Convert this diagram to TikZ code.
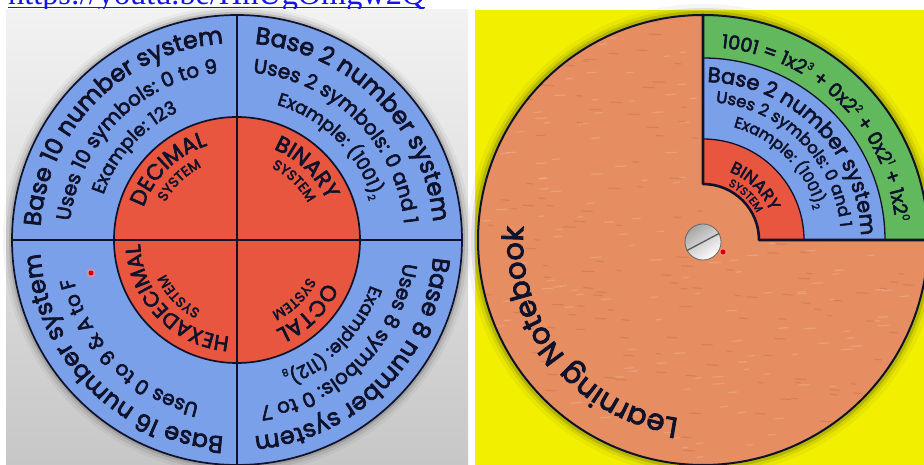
\documentclass[tikz,border=0pt]{standalone}
\usepackage{fontspec}
\setmainfont{Poppins}[FakeBold=3]
\newfontfamily\linkfont{Liberation Serif}
\usetikzlibrary{decorations.text,calc}
\definecolor{ink}{RGB}{15,18,42}
\definecolor{wblue}{RGB}{122,160,234}
\definecolor{wred}{RGB}{232,86,64}
\definecolor{worange}{RGB}{230,142,98}
\definecolor{wgreen}{RGB}{98,184,92}
\definecolor{wyellow}{RGB}{242,240,0}
\definecolor{linkblue}{RGB}{20,20,238}
\newcommand\arctxt[5]{%
  \path[decorate,decoration={text along path,text align=center,text color=ink,
     text={|\fontsize{#4}{#4}\selectfont|#5}}]
    ([shift={(#1)}]#2+80:#3) arc[start angle=#2+80,end angle=#2-80,radius=#3];}
\newcommand\subs[1]{{\raisebox{-0.35ex}{\fontsize{10}{10}\selectfont #1}}}
\newcommand\sups[1]{{\raisebox{0.75ex}{\fontsize{10}{10}\selectfont #1}}}
\tikzset{
  outline/.style={draw=ink,line width=1.7pt},
  divider/.style={draw=ink,line width=1.4pt},
  shadowring/.style={fill=black,opacity=#1},
  speck/.style={line width=1.2pt,line cap=round,opacity=0.22},
}
\begin{document}
\begin{tikzpicture}[x=1pt,y=1pt]
\useasboundingbox (0,0) rectangle (924,465);
\clip (0,0) rectangle (924,465);
\fill[white] (0,0) rectangle (924,465);
% link at the top
\node[anchor=base west,inner sep=0,text=linkblue,font=\linkfont] (link) at (8,460.5)
  {\resizebox{417pt}{!}{https://youtu.be/HhUgOmgw2Q}};
\draw[linkblue,line width=1.3pt] (link.base west) ++(0,-3) coordinate (u1) -- (u1 -| link.base east);
% ---------------- left panel
\shade[top color=white!95!black,bottom color=white!78!black] (6,0) rectangle (468,455);
\coordinate (L) at (237,225);
\foreach \r/\o in {234/0.04,231/0.07,228/0.12}{\fill[shadowring=\o] (L) circle (\r);}
\path[fill=wblue,outline] (L) circle (225);
\path[fill=wred,outline] (L) circle (123);
\draw[divider] ([xshift=-225pt]L) -- ([xshift=225pt]L);
\draw[divider] ([yshift=-225pt]L) -- ([yshift=225pt]L);
% top left
\arctxt{L}{135}{197}{24}{Base 10 number system}
\arctxt{L}{135}{168}{20}{Uses 10 symbols: 0 to 9}
\arctxt{L}{138}{141}{18.5}{Example: 123}
\arctxt{L}{134}{99}{22}{DECIMAL}
\arctxt{L}{134}{81}{14}{SYSTEM}
% top right
\arctxt{L}{45}{197}{24}{Base 2 number system}
\arctxt{L}{45}{168}{20}{Uses 2 symbols: 0 and 1}
\arctxt{L}{45}{141}{18}{Example: (1001)\subs{2}}
\arctxt{L}{46}{98}{22}{BINARY}
\arctxt{L}{46}{80}{14}{SYSTEM}
% bottom right
\arctxt{L}{-45}{197}{24}{Base 8 number system}
\arctxt{L}{-45}{168}{20}{Uses 8 symbols: 0 to 7}
\arctxt{L}{-45}{141}{18}{Example: (112)\subs{8}}
\arctxt{L}{-46}{98}{22}{OCTAL}
\arctxt{L}{-46}{80}{14}{SYSTEM}
% bottom left
\arctxt{L}{-135}{197}{24}{Base 16 number system}
\arctxt{L}{-135}{168}{20}{Uses 0 to 9 {\&} A to F}
\arctxt{L}{-136}{97}{21}{HEXADECIMAL}
\arctxt{L}{-136}{79}{14}{SYSTEM}
\node[circle,fill=red!45,opacity=0.6,inner sep=0,minimum size=9pt] (dotL) at (91,192) {};
\node[circle,fill=red!85!black,inner sep=0,minimum size=5pt] at (dotL) {};
% ---------------- right panel
\fill[wyellow] (475,0) rectangle (924,455);
\coordinate (R) at (703,225);
\foreach \r/\o in {236/0.04,232/0.08,229/0.14}{\fill[shadowring=\o] (R) circle (\r);}
\fill[worange] (R) circle (225);
% paper texture on the orange disc
\begin{scope}
  \clip (R) circle (224);
  \pgfmathsetseed{7}
  \foreach \i in {1,...,420}{
    \pgfmathsetmacro\px{480+445*rnd}
    \pgfmathsetmacro\py{0+455*rnd}
    \pgfmathsetmacro\ln{4+8*rnd}
    \ifodd\i
      \draw[speck,white!70!worange] (\px,\py) -- ++(\ln,0.6);
    \else
      \draw[speck,worange!80!red!70!black] (\px,\py) -- ++(\ln,-0.6);
    \fi}
\end{scope}
\begin{scope}
  \clip (R) rectangle (935,460);
  \fill[wgreen] (R) circle (225);
  \fill[wblue] (R) circle (182);
  \fill[wred] (R) circle (101);
  \fill[worange] (R) circle (56);
  \draw[ink,line width=1.3pt] (R) circle (182);
  \draw[ink,line width=1.3pt] (R) circle (101);
\end{scope}
\draw[ink,line width=2.6pt,line join=round] ([yshift=226pt]R) -- ([yshift=56pt]R)
  arc[start angle=90,end angle=0,radius=56] -- ([xshift=230pt]R);
\path[outline,line width=2pt] (R) circle (225);
\arctxt{R}{45}{193}{19}{1001 = 1x2\sups{3} + 0x2\sups{2} + 0x2\sups{1} + 1x2\sups{0}}
\arctxt{R}{45}{158}{21}{Base 2 number system}
\arctxt{R}{45}{138}{16.5}{Uses 2 symbols: 0 and 1}
\arctxt{R}{45}{117}{15.5}{Example: (1001)\subs{2}}
\arctxt{R}{46}{73}{17}{BINARY}
\arctxt{R}{46}{60}{11}{SYSTEM}
\arctxt{R}{-141}{180}{29}{Learning Notebook}
% knob
\node[circle,inner sep=0,minimum size=36pt,draw=black!60,line width=0.8pt,
      left color=black!35,right color=white,shading angle=35] (knob) at (703,223) {};
\draw[black!65,line width=1.3pt] (knob.208) -- (knob.28);
\node[circle,fill=red!45,opacity=0.6,inner sep=0,minimum size=8pt] (dotR) at (723,213) {};
\node[circle,fill=red!85!black,inner sep=0,minimum size=5pt] at (dotR) {};
\end{tikzpicture}
\end{document}
